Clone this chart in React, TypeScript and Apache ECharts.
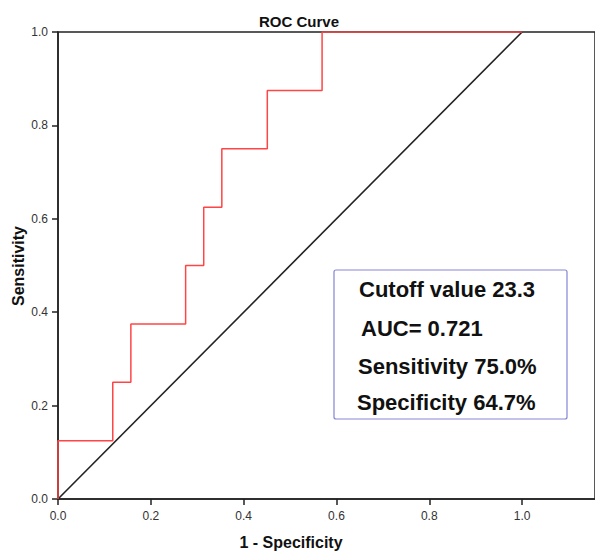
import React, { useEffect, useRef } from "react";
import * as echarts from "echarts";

const fprPoints = [0, 0.118, 0.157, 0.275, 0.314, 0.353, 0.451, 0.569, 1.0];
const tprPoints = [0, 0.125, 0.25, 0.375, 0.5, 0.625, 0.75, 0.875, 1.0];
const refX = [0, 1];
const refY = [0, 1];
const tickValues = [0, 0.2, 0.4, 0.6, 0.8, 1.0];
const chartTitle = "ROC Curve";
const xName = "1 - Specificity";
const yName = "Sensitivity";
const infoLines = ["Cutoff value 23.3", "AUC= 0.721", "Sensitivity 75.0%", "Specificity 64.7%"];

const FONT = "'Liberation Sans', Arial, sans-serif";

export default function App() {
  const ref = useRef<HTMLDivElement>(null);
  useEffect(() => {
    if (!ref.current) return;
    const chart = echarts.init(ref.current, null, { renderer: "svg" });
    const fmt = (v: number) => {
      const ok = tickValues.some((t) => Math.abs(t - v) < 1e-6);
      return ok ? v.toFixed(1) : "";
    };
    const infoX = [359, 361, 358, 357];
    const infoY = [289, 328, 366, 402];
    chart.setOption({
      animation: false,
      backgroundColor: "#ffffff",
      grid: {
        left: 58,
        top: 32,
        width: 540,
        height: 467,
        show: true,
        borderColor: "#222",
        borderWidth: 1.5,
        containLabel: false,
      },
      xAxis: {
        type: "value",
        min: 0,
        max: 540 / 466.7,
        interval: 0.2,
        splitLine: { show: false },
        axisLine: { show: true, lineStyle: { color: "#222", width: 1.5 } },
        axisTick: { show: true, length: 6, lineStyle: { color: "#222", width: 1.5 } },
        axisLabel: {
          margin: 11,
          color: "#333",
          fontSize: 12,
          fontFamily: FONT,
          formatter: fmt,
          showMaxLabel: false,
        },
      },
      yAxis: {
        type: "value",
        min: 0,
        max: 1,
        interval: 0.2,
        splitLine: { show: false },
        axisLine: { show: true, lineStyle: { color: "#222", width: 1.5 } },
        axisTick: { show: true, length: 6, lineStyle: { color: "#222", width: 1.5 } },
        axisLabel: {
          margin: 10,
          color: "#333",
          fontSize: 12,
          fontFamily: FONT,
          formatter: fmt,
        },
      },
      series: [
        {
          type: "line",
          data: refX.map((x, i) => [x, refY[i]]),
          showSymbol: false,
          symbol: "none",
          lineStyle: { color: "#222", width: 1.6 },
          z: 2,
        },
        {
          type: "line",
          step: "start",
          data: fprPoints.map((x, i) => [x, tprPoints[i]]),
          showSymbol: false,
          symbol: "none",
          lineStyle: { color: "#ff4545", width: 1.5 },
          z: 3,
        },
      ],
      graphic: [
        {
          type: "text",
          x: 299,
          y: 21,
          style: {
            text: chartTitle,
            font: `bold 15px ${FONT}`,
            fill: "#111",
            align: "center",
            verticalAlign: "middle",
          },
        },
        {
          type: "text",
          x: 291,
          y: 542,
          style: {
            text: xName,
            font: `bold 16px ${FONT}`,
            fill: "#111",
            align: "center",
            verticalAlign: "middle",
          },
        },
        {
          type: "text",
          x: 18,
          y: 266,
          rotation: Math.PI / 2,
          style: {
            text: yName,
            font: `bold 16px ${FONT}`,
            fill: "#111",
            align: "center",
            verticalAlign: "middle",
          },
        },
        {
          type: "rect",
          shape: { x: 334, y: 270, width: 233, height: 149, r: 2 },
          style: { fill: "#fff", stroke: "#8585d5", lineWidth: 1.2 },
          z: 10,
        },
        ...infoLines.map((t, i) => ({
          type: "text",
          x: infoX[i],
          y: infoY[i],
          z: 11,
          style: {
            text: t,
            font: `bold 22px ${FONT}`,
            fill: "#111",
            align: "left",
            verticalAlign: "middle",
          },
        })),
      ],
    });
    return () => chart.dispose();
  }, []);
  return (
    <div
      ref={ref}
      style={{ position: "absolute", left: 0, top: 0, width: 595, height: 553, background: "#fff" }}
    />
  );
}
